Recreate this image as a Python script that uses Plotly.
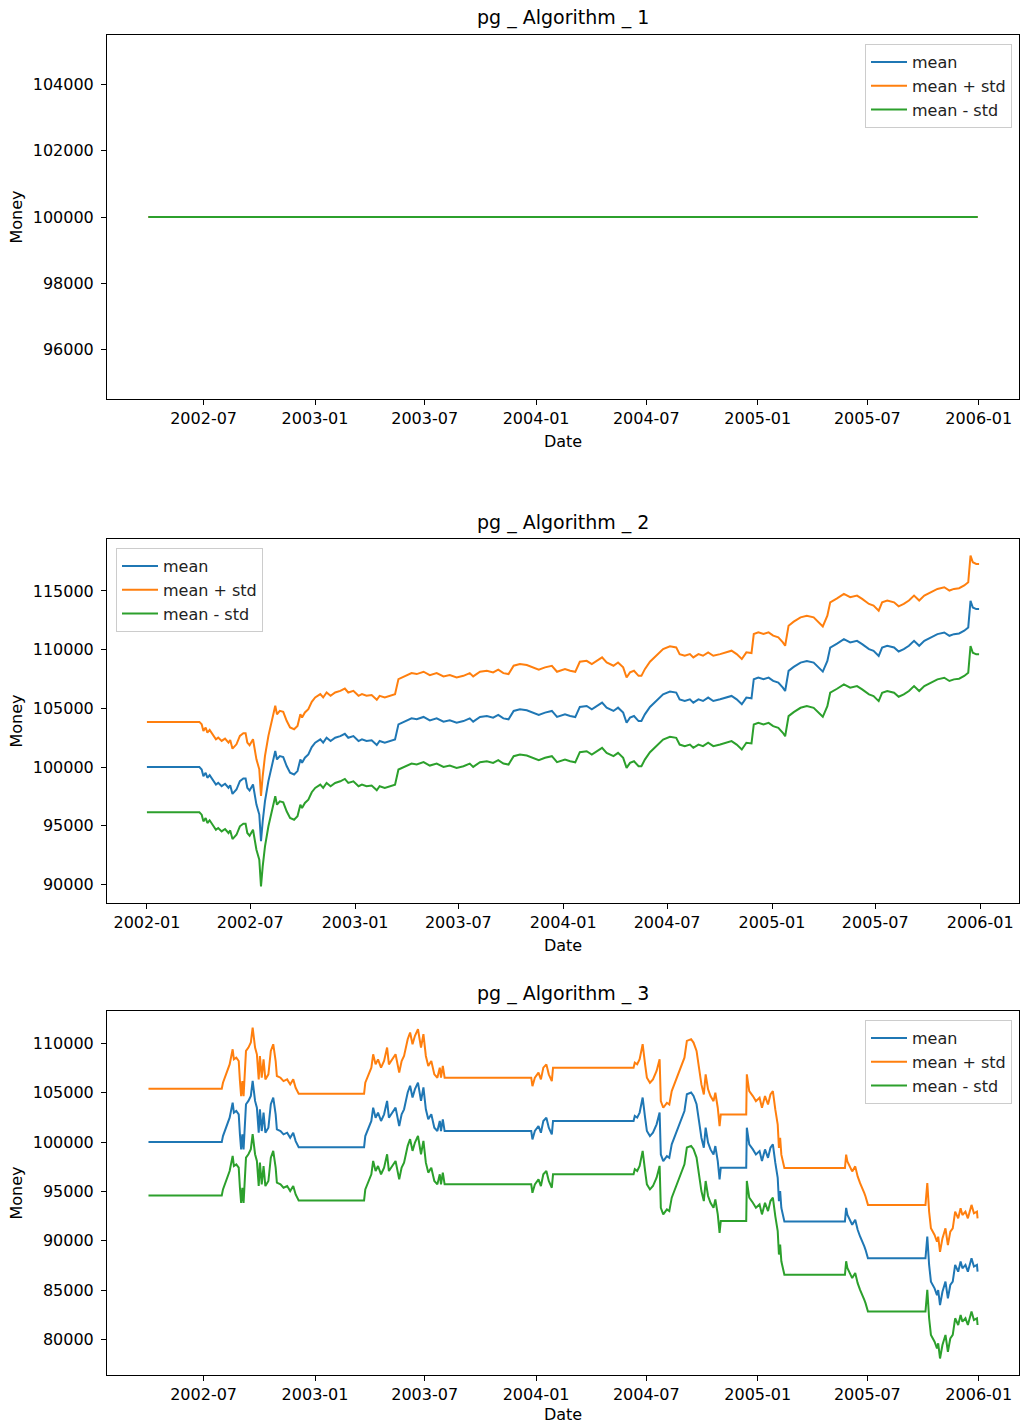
import plotly.graph_objects as go

# ---------------- data ----------------
alg1_dates = ["2002-04-01", "2005-12-30"]
alg1_mean = [100000, 100000]
alg1_std = 0

alg2_dates = [
    "2002-01-01", "2002-04-03", "2002-04-07", "2002-04-10", "2002-04-14", "2002-04-17", "2002-04-21", "2002-04-26",
    "2002-05-02", "2002-05-06", "2002-05-12", "2002-05-18", "2002-05-24", "2002-05-27", "2002-05-31", "2002-06-07",
    "2002-06-13", "2002-06-19", "2002-06-23", "2002-06-26", "2002-06-30", "2002-07-06", "2002-07-09", "2002-07-12",
    "2002-07-17", "2002-07-20", "2002-07-23", "2002-07-27", "2002-08-02", "2002-08-08", "2002-08-14", "2002-08-17",
    "2002-08-22", "2002-08-28", "2002-09-03", "2002-09-09", "2002-09-16", "2002-09-22", "2002-09-27", "2002-09-30",
    "2002-10-05", "2002-10-11", "2002-10-17", "2002-10-23", "2002-11-01", "2002-11-06", "2002-11-12", "2002-11-19",
    "2002-11-27", "2002-12-06", "2002-12-14", "2002-12-20", "2002-12-29", "2003-01-07", "2003-01-13", "2003-01-21",
    "2003-01-30", "2003-02-08", "2003-02-13", "2003-02-22", "2003-03-03", "2003-03-12", "2003-03-18", "2003-03-24",
    "2003-04-01", "2003-04-10", "2003-04-19", "2003-05-01", "2003-05-12", "2003-05-24", "2003-06-05", "2003-06-16",
    "2003-06-28", "2003-07-10", "2003-07-21", "2003-07-27", "2003-08-08", "2003-08-20", "2003-08-31", "2003-09-09",
    "2003-09-18", "2003-09-27", "2003-10-06", "2003-10-17", "2003-10-29", "2003-11-10", "2003-11-19", "2003-11-30",
    "2003-12-12", "2003-12-21", "2003-12-26", "2004-01-04", "2004-01-13", "2004-01-22", "2004-01-30", "2004-02-11",
    "2004-02-20", "2004-02-29", "2004-03-09", "2004-03-17", "2004-03-29", "2004-04-06", "2004-04-15", "2004-04-21",
    "2004-04-27", "2004-05-04", "2004-05-12", "2004-05-17", "2004-05-23", "2004-06-01", "2004-06-12", "2004-06-24",
    "2004-07-06", "2004-07-17", "2004-07-23", "2004-08-01", "2004-08-10", "2004-08-16", "2004-08-25", "2004-09-02",
    "2004-09-11", "2004-09-20", "2004-10-02", "2004-10-13", "2004-10-22", "2004-10-31", "2004-11-09", "2004-11-17",
    "2004-11-26", "2004-11-30", "2004-12-08", "2004-12-17", "2004-12-26", "2005-01-03", "2005-01-12", "2005-01-20",
    "2005-01-24", "2005-01-30", "2005-02-08", "2005-02-20", "2005-03-03", "2005-03-15", "2005-03-24", "2005-03-31",
    "2005-04-08", "2005-04-13", "2005-04-25", "2005-05-07", "2005-05-18", "2005-05-30", "2005-06-08", "2005-06-20",
    "2005-06-28", "2005-07-07", "2005-07-13", "2005-07-22", "2005-08-03", "2005-08-11", "2005-08-20", "2005-08-29",
    "2005-09-07", "2005-09-16", "2005-09-25", "2005-10-06", "2005-10-18", "2005-10-30", "2005-11-08", "2005-11-16",
    "2005-11-25", "2005-12-04", "2005-12-11", "2005-12-15", "2005-12-19", "2005-12-25", "2005-12-30",
]
alg2_mean = [
    100000, 100000, 99800, 99230, 99520, 99090, 99320, 98950,
    98520, 98660, 98380, 98580, 98240, 98460, 97720, 98090,
    98810, 99030, 99030, 98240, 98010, 98520, 97810, 96810,
    95960, 93690, 95390, 97100, 98810, 100230, 101370, 100650,
    100940, 100850, 100090, 99520, 99370, 99660, 100650, 100370,
    100800, 101080, 101710, 102080, 102360, 102080, 102500, 102220,
    102500, 102640, 102840, 102500, 102640, 102220, 102360, 102220,
    102280, 101880, 102220, 102080, 102220, 102360, 103640, 103780,
    103920, 104150, 104070, 104270, 103980, 104150, 103870, 103980,
    103780, 103920, 104150, 103870, 104270, 104350, 104210, 104440,
    104150, 104070, 104780, 104920, 104840, 104640, 104440, 104640,
    104780, 104270, 104350, 104490, 104350, 104260, 105120, 105200,
    104920, 105200, 105490, 105060, 104780, 105060, 104640, 103780,
    104210, 104350, 103920, 103920, 104490, 105120, 105630, 106200,
    106430, 106340, 105770, 105630, 105770, 105490, 105770, 105630,
    105920, 105630, 105770, 105920, 106060, 105770, 105350, 105920,
    105860, 107480, 107620, 107480, 107620, 107340, 107200, 106770,
    106480, 108190, 108530, 108900, 109040, 108900, 108420, 108130,
    109040, 110180, 110520, 110890, 110610, 110750, 110470, 110040,
    109900, 109470, 110180, 110330, 110180, 109840, 110040, 110330,
    110750, 110330, 110750, 111040, 111320, 111460, 111180, 111320,
    111380, 111610, 111890, 114160, 113590, 113450, 113450,
]
alg2_std = 3850

alg3_dates = [
    "2002-04-01", "2002-07-31", "2002-08-02", "2002-08-05", "2002-08-09", "2002-08-13", "2002-08-18", "2002-08-20",
    "2002-08-24", "2002-08-28", "2002-08-30", "2002-09-01", "2002-09-03", "2002-09-05", "2002-09-09", "2002-09-13",
    "2002-09-17", "2002-09-20", "2002-09-24", "2002-09-27", "2002-09-30", "2002-10-02", "2002-10-05", "2002-10-08",
    "2002-10-11", "2002-10-16", "2002-10-20", "2002-10-24", "2002-10-28", "2002-10-30", "2002-11-05", "2002-11-10",
    "2002-11-16", "2002-11-21", "2002-11-26", "2002-11-30", "2002-12-05", "2003-03-23", "2003-03-25", "2003-03-31",
    "2003-04-04", "2003-04-07", "2003-04-11", "2003-04-15", "2003-04-20", "2003-04-25", "2003-04-30", "2003-05-03",
    "2003-05-09", "2003-05-14", "2003-05-20", "2003-05-24", "2003-05-28", "2003-06-03", "2003-06-07", "2003-06-11",
    "2003-06-15", "2003-06-20", "2003-06-25", "2003-06-29", "2003-07-03", "2003-07-07", "2003-07-12", "2003-07-17",
    "2003-07-22", "2003-07-26", "2003-07-28", "2003-07-31", "2003-08-03", "2003-12-24", "2003-12-26", "2003-12-30",
    "2004-01-05", "2004-01-09", "2004-01-13", "2004-01-18", "2004-01-22", "2004-01-27", "2004-01-29", "2004-06-10",
    "2004-06-12", "2004-06-16", "2004-06-20", "2004-06-25", "2004-06-29", "2004-07-02", "2004-07-07", "2004-07-12",
    "2004-07-18", "2004-07-23", "2004-07-25", "2004-07-29", "2004-08-04", "2004-08-08", "2004-08-12", "2004-08-18",
    "2004-08-23", "2004-08-29", "2004-09-02", "2004-09-06", "2004-09-13", "2004-09-17", "2004-09-22", "2004-09-26",
    "2004-09-30", "2004-10-04", "2004-10-07", "2004-10-11", "2004-10-15", "2004-10-20", "2004-10-23", "2004-10-27",
    "2004-10-30", "2004-11-01", "2004-12-13", "2004-12-14", "2004-12-18", "2004-12-24", "2004-12-29", "2005-01-04",
    "2005-01-08", "2005-01-13", "2005-01-18", "2005-01-22", "2005-01-26", "2005-01-30", "2005-02-03", "2005-02-05",
    "2005-02-07", "2005-02-09", "2005-02-14", "2005-05-25", "2005-05-27", "2005-05-29", "2005-06-02", "2005-06-06",
    "2005-06-11", "2005-06-15", "2005-06-19", "2005-06-23", "2005-06-26", "2005-06-28", "2005-07-02", "2005-10-05",
    "2005-10-08", "2005-10-11", "2005-10-14", "2005-10-20", "2005-10-24", "2005-10-26", "2005-10-29", "2005-11-02",
    "2005-11-07", "2005-11-11", "2005-11-15", "2005-11-19", "2005-11-23", "2005-11-28", "2005-12-02", "2005-12-05",
    "2005-12-10", "2005-12-14", "2005-12-20", "2005-12-24", "2005-12-29", "2005-12-30",
]
alg3_mean = [
    100000, 100000, 100610, 101120, 101800, 102470, 104000, 102980,
    103150, 102810, 100780, 99250, 100780, 99250, 103830, 104170,
    104680, 106200, 104170, 103490, 100950, 103320, 101120, 102980,
    100950, 101460, 103830, 104510, 102810, 101290, 101120, 100780,
    100950, 100440, 100950, 100100, 99490, 99490, 100610, 101460,
    102140, 103490, 102470, 102980, 102140, 102810, 104170, 102470,
    102980, 103490, 101630, 102810, 103320, 105020, 105700, 104510,
    105360, 106030, 104170, 105530, 103320, 102310, 102810, 101460,
    101120, 102140, 101120, 102310, 101120, 101120, 100270, 101120,
    101630, 100950, 102140, 102470, 101460, 100780, 102140, 102140,
    102650, 102480, 102990, 104510, 102480, 101120, 100610, 100950,
    101800, 102990, 98750, 98080, 98580, 98410, 99770, 100780,
    101460, 102480, 103150, 104850, 105020, 104680, 103830, 102140,
    100440, 99430, 101460, 99940, 99260, 98750, 99600, 98080,
    96210, 97400, 97400, 101460, 99770, 99260, 98750, 99090,
    98080, 99260, 98410, 99430, 99770, 97910, 96380, 94010,
    95030, 93330, 91970, 91970, 93330, 92650, 92140, 91630,
    92140, 91120, 90440, 89940, 89430, 89090, 88240, 88240,
    90440, 87560, 85870, 85190, 84510, 85020, 83490, 84850,
    85870, 84170, 85530, 85870, 87560, 86880, 87900, 87220,
    87560, 86880, 88240, 87390, 87560, 86880,
]
alg3_std = 5400

titles = ["pg _ Algorithm _ 1", "pg _ Algorithm _ 2", "pg _ Algorithm _ 3"]
series_names = ["mean", "mean + std", "mean - std"]
colors = ["#1f77b4", "#ff7f0e", "#2ca02c"]

y_tick_vals = [
    [96000, 98000, 100000, 102000, 104000],
    [90000, 95000, 100000, 105000, 110000, 115000],
    [80000, 85000, 90000, 95000, 100000, 105000, 110000],
]

# ---------------- layout geometry ----------------
W, H = 1021, 1424
x_dom = [107 / W, 1019 / W]
panels_px = [(35, 399), (539, 903), (1011, 1375)]  # top, bottom pixel of each axes box
y_doms = [[1 - b / H, 1 - t / H] for t, b in panels_px]
x_ranges = [
    ["2002-01-22 12:00", "2006-03-08 10:00"],
    ["2001-10-23", "2006-03-10"],
    ["2002-01-22 12:00", "2006-03-08 10:00"],
]
y_ranges = [[94500, 105500], [88430, 119420], [76415, 113275]]
legend_pos = [
    dict(x=1012 / W, xanchor="right", y=1 - 44 / H, yanchor="top"),
    dict(x=116 / W, xanchor="left", y=1 - 548 / H, yanchor="top"),
    dict(x=1012 / W, xanchor="right", y=1 - 1020 / H, yanchor="top"),
]

FONT = "DejaVu Sans"
FS = 16
fig = go.Figure()

datasets = [
    (alg1_dates, alg1_mean, alg1_std),
    (alg2_dates, alg2_mean, alg2_std),
    (alg3_dates, alg3_mean, alg3_std),
]

layout = dict(
    width=W, height=H, autosize=False,
    margin=dict(l=0, r=0, t=0, b=0),
    paper_bgcolor="white", plot_bgcolor="white",
    font=dict(family=FONT, size=FS, color="black"),
    annotations=[],
)

for i, (dates, mean, std) in enumerate(datasets):
    k = "" if i == 0 else str(i + 1)
    upper = [m + std for m in mean]
    lower = [m - std for m in mean]
    legname = "legend" + k
    for j, (nm, ys) in enumerate(zip(series_names, [mean, upper, lower])):
        fig.add_trace(go.Scatter(
            x=dates, y=ys, mode="lines", name=nm,
            line=dict(color=colors[j], width=2),
            xaxis="x" + k, yaxis="y" + k,
            legend=legname, legendgroup=f"g{i}_{j}",
        ))
    axis_common = dict(
        showline=True, linecolor="black", linewidth=1, mirror=True,
        showgrid=False, zeroline=False, ticks="outside", ticklen=5,
        tickcolor="black", tickwidth=1,
        tickfont=dict(family=FONT, size=FS, color="black"),
    )
    layout["xaxis" + k] = dict(
        axis_common, domain=x_dom, anchor="y" + k, type="date",
        range=x_ranges[i], tick0="2002-01-01", dtick="M6", tickformat="%Y-%m",
        title=dict(text="Date", font=dict(family=FONT, size=FS, color="black"), standoff=8),
    )
    layout["yaxis" + k] = dict(
        axis_common, domain=y_doms[i], anchor="x" + k,
        range=y_ranges[i], tickvals=y_tick_vals[i], tickformat="d",
        ticklabelstandoff=4,
        title=dict(text="Money", font=dict(family=FONT, size=FS, color="black"), standoff=6),
    )
    layout[legname] = dict(
        legend_pos[i],
        bgcolor="rgba(255,255,255,0.8)", bordercolor="#cccccc", borderwidth=1,
        font=dict(family=FONT, size=FS, color="#222222"),
        tracegroupgap=0, itemwidth=36,
    )
    t, b = panels_px[i]
    layout["annotations"].append(dict(
        text=titles[i], xref="paper", yref="paper",
        x=(x_dom[0] + x_dom[1]) / 2, y=1 - (t - 17) / H,
        xanchor="center", yanchor="middle", showarrow=False,
        font=dict(family=FONT, size=19, color="black"),
    ))

fig.update_layout(**layout)
fig.write_html("out.html", config={"displayModeBar": False},
               post_script="document.body.style.margin='0';")
